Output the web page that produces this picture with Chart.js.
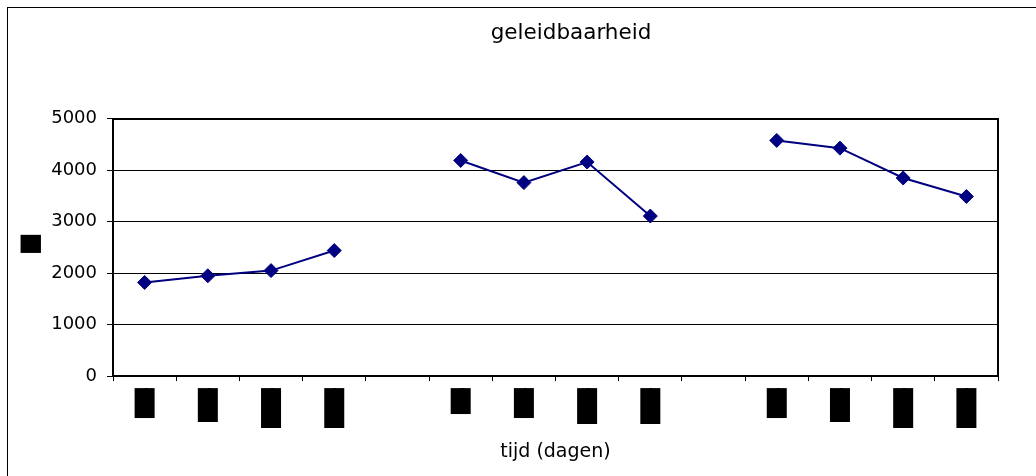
<!DOCTYPE html>
<html>
<head>
<meta charset="utf-8">
<script src="https://cdn.jsdelivr.net/npm/chart.js@4/dist/chart.umd.min.js"></script>
<style>
  html, body { margin: 0; padding: 0; background: #fff; overflow: hidden; width: 1036px; height: 476px; }
  #frame { position: absolute; left: 7px; top: 7px; width: 2000px; height: 2000px;
           border-left: 1px solid #000; border-top: 1px solid #000; }
  #wrap { position: absolute; left: 0; top: 0; width: 1142px; height: 476px; }
</style>
</head>
<body>
<div id="frame"></div>
<div id="wrap"><canvas id="c" width="1142" height="476"></canvas></div>
<script>
// Category labels along the time axis (shown as solid black glyph runs); empty slots separate the three series runs
const dagLabels = [
  '███████████████',
  '█████████████████',
  '████████████████████',
  '████████████████████',
  '',
  '█████████████',
  '███████████████',
  '██████████████████',
  '██████████████████',
  '',
  '███████████████',
  '█████████████████',
  '████████████████████',
  '████████████████████'
];

// Conductivity readings; null breaks the line between runs
const geleidbaarheid = [1820, 1950, 2050, 2440, null, 4190, 3760, 4160, 3110, null, 4580, 4430, 3850, 3490];

// Value axis ticks
const yTicks = [0, 1000, 2000, 3000, 4000, 5000];

const titel = 'geleidbaarheid';
const xTitel = 'tijd (dagen)';
const yTitel = ' ▆';

const FONT = 'DejaVu Sans';
const NAVY = '#000080';

// Size the tick-label font so that one block glyph advances 2px
const probe = document.createElement('canvas').getContext('2d');
probe.font = '100px "DejaVu Sans"';
const blockAdvance = probe.measureText('█').width / 100;
const tickFontSize = 2 / blockAdvance;

new Chart(document.getElementById('c'), {
  type: 'line',
  data: {
    labels: dagLabels,
    datasets: [{
      data: geleidbaarheid,
      borderColor: NAVY,
      backgroundColor: NAVY,
      borderWidth: 2,
      tension: 0,
      spanGaps: false,
      fill: false,
      pointStyle: 'rectRot',
      pointRadius: 7,
      pointBorderWidth: 1,
      pointBackgroundColor: NAVY,
      pointBorderColor: NAVY
    }]
  },
  options: {
    responsive: false,
    animation: false,
    devicePixelRatio: 1,
    layout: { padding: 0 },
    plugins: {
      legend: { display: false },
      tooltip: { enabled: false },
      title: {
        display: true,
        text: titel,
        color: '#000',
        font: { family: FONT, size: 21.5, weight: 'normal', lineHeight: 1.2 },
        padding: { top: 21, bottom: 72 }
      }
    },
    scales: {
      x: {
        type: 'category',
        position: 'bottom',
        offset: true,
        grid: { display: true, offset: true, drawOnChartArea: false, drawTicks: true,
                tickLength: 5, tickColor: '#000', color: '#000', lineWidth: 1 },
        border: { display: true, color: '#000', width: 2 },
        ticks: {
          autoSkip: false, minRotation: 90, maxRotation: 90, padding: 7, color: '#000',
          font: { family: FONT, size: tickFontSize, lineHeight: 1 },
          showLabelBackdrop: true, backdropColor: '#000',
          backdropPadding: { top: 10, bottom: 10 - tickFontSize, left: 0, right: 0 }
        },
        title: {
          display: true, text: xTitel, color: '#000',
          font: { family: FONT, size: 19, weight: 'normal', lineHeight: 1.2 },
          padding: { top: 5.6, bottom: 12.6 }
        }
      },
      x2: {
        type: 'category',
        position: 'top',
        grid: { display: false, drawTicks: false },
        ticks: { display: false },
        border: { display: true, color: '#000', width: 2 }
      },
      y: {
        type: 'linear',
        position: 'left',
        min: yTicks[0],
        max: yTicks[yTicks.length - 1],
        afterBuildTicks: (s) => { s.ticks = yTicks.map(v => ({ value: v })); },
        ticks: { padding: 10, color: '#000', font: { family: FONT, size: 18 },
                 callback: (v) => String(v) },
        grid: { color: '#000', lineWidth: 1, drawTicks: true, tickLength: 6, tickColor: '#000' },
        border: { display: true, color: '#000', width: 2 },
        title: {
          display: true, text: yTitel, color: '#000',
          font: { family: FONT, size: 23, lineHeight: '16px' },
          padding: { top: 21.5, bottom: 3.7 }
        }
      },
      y2: {
        type: 'linear',
        position: 'right',
        min: yTicks[0],
        max: yTicks[yTicks.length - 1],
        grid: { display: false, drawTicks: false },
        ticks: { display: false },
        border: { display: true, color: '#000', width: 2 },
        afterFit: (s) => { s.width = 144; }
      }
    }
  }
});
</script>
</body>
</html>
